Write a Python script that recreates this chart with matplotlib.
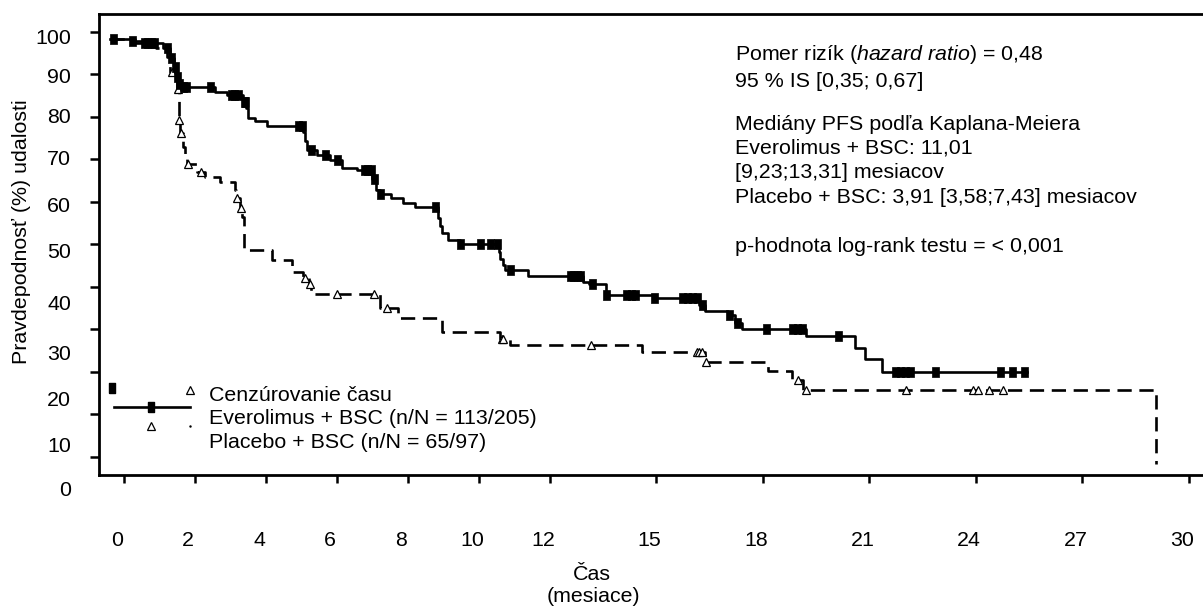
import numpy as np
import matplotlib
matplotlib.use('Agg')
import matplotlib.pyplot as plt
import matplotlib.transforms as mtransforms
from matplotlib.ticker import FixedLocator, FixedFormatter, NullFormatter

plt.rcParams['font.family'] = ['Liberation Sans', 'DejaVu Sans']
plt.rcParams['mathtext.fontset'] = 'custom'
plt.rcParams['mathtext.rm'] = 'Liberation Sans'
plt.rcParams['mathtext.it'] = 'Liberation Sans:italic'

# Everolimus + BSC: KM steps (months, %) and censoring times
evero_t = [0, 0.61, 0.93, 1.49, 1.69, 1.80, 1.86, 1.92, 1.97, 2.96, 3.29, 3.76, 3.82, 3.90,
           4.08, 4.42, 5.45, 5.50, 5.55, 5.82, 6.20, 6.53, 6.95, 7.38, 7.50, 7.60, 7.93,
           8.26, 8.59, 9.25, 9.30, 9.35, 9.53, 9.86, 10.95, 11.00, 11.08, 11.13, 11.78,
           13.33, 13.50, 13.96, 15.33, 16.60, 16.75, 17.40, 17.60, 17.79, 19.62, 20.99,
           21.27, 21.74]
evero_s = [100, 99.6, 99.0, 97.9, 95.6, 93.5, 91.0, 89.5, 88.8, 87.6, 86.9, 85.3, 83.7, 81.5,
           80.8, 79.5, 78.2, 76.0, 73.9, 72.8, 71.6, 69.8, 69.2, 67.0, 64.6, 63.5, 62.6,
           61.4, 60.6, 58.0, 56.0, 54.3, 52.8, 51.7, 50.0, 48.3, 46.8, 45.7, 44.3,
           42.9, 42.5, 39.9, 39.0, 37.5, 36.1, 35.0, 33.2, 31.7, 30.2, 27.3,
           24.7, 21.8]
evero_end = 25.82
evero_cens = [0.08, 0.62, 0.95, 1.05, 1.15, 1.25, 1.60, 1.72, 1.84, 1.90, 1.95, 2.05, 2.15,
              2.82, 3.40, 3.50, 3.60, 3.77, 3.80, 5.30, 5.40, 5.65, 6.07, 6.40, 7.15, 7.25,
              7.35, 7.45, 7.62, 9.15, 9.86, 10.42, 10.70, 10.89, 11.27, 12.95, 13.05, 13.15,
              13.25, 13.59, 13.96, 14.55, 14.68, 14.80, 15.33, 16.10, 16.25, 16.40, 16.55,
              16.68, 17.45, 17.65, 18.47, 19.20, 19.35, 19.50, 20.52, 22.10, 22.25, 22.40,
              22.55, 23.24, 25.07, 25.40, 25.75]

# Placebo + BSC
placebo_t = [0, 0.70, 1.30, 1.60, 1.70, 1.88, 1.93, 1.95, 1.98, 2.05, 2.12, 2.18, 2.45, 2.68,
             3.10, 3.52, 3.56, 3.66, 3.72, 3.77, 4.55, 5.12, 5.45, 5.60, 5.66, 7.60, 8.12,
             9.34, 10.98, 11.27, 14.98, 16.76, 18.54, 19.20, 19.53, 29.48]
placebo_s = [100, 99.0, 97.9, 95.8, 92.4, 88.4, 84.0, 81.0, 77.9, 74.7, 72.3, 70.6, 68.7, 67.6,
             66.5, 64.5, 62.6, 60.2, 58.2, 50.4, 48.0, 45.3, 43.9, 42.4, 40.0, 36.8, 34.3,
             31.2, 29.4, 28.0, 26.3, 24.0, 22.0, 19.8, 17.5, 0]
placebo_cens = [1.74, 1.92, 1.95, 1.99, 2.20, 2.56, 3.57, 3.68, 5.49, 5.63, 6.39, 7.44, 7.80,
                11.03, 11.08, 13.54, 16.53, 16.60, 16.68, 16.78, 19.39, 19.62, 22.41, 24.32,
                24.44, 24.76, 25.15]

x_ticks = [0, 2, 4, 6, 8, 10, 12, 15, 18, 21, 24, 27, 30]
y_ticks = [0, 10, 20, 30, 40, 50, 60, 70, 80, 90, 100]
# where the printed tick labels actually sit (the source figure is misregistered)
y_label_pos = [-6.1, 4.1, 15.1, 25.7, 37.5, 49.8, 60.6, 71.6, 81.6, 90.9, 100.2]
x_tick_shift = 0.383
x_label_shift = 0.2
y_tick_shift = 1.76

W, H = 1203, 607
fs = 15.4
fig = plt.figure(figsize=(W / 100, H / 100), dpi=100)


def fx(x):
    return x / W


def fy(y):
    return 1 - y / H


ax = fig.add_axes([fx(98.7), fy(475), 1 - fx(98.7), fy(14) - fy(475)])
ax.set_xlim(-0.318, 30.79)
ax.set_ylim(-2.54, 105.93)


def surv_at(ts, ss, tc):
    idx = np.searchsorted(ts, tc, side='right') - 1
    return np.asarray(ss)[idx]


rect = [(-0.35, -0.5), (0.35, -0.5), (0.35, 0.5), (-0.35, 0.5), (-0.35, -0.5)]

# placebo (dashed)
ax.step(placebo_t, placebo_s, where='post', color='black', lw=1.9,
        ls=(0, (5.4, 2.9)), zorder=2)
ax.plot(placebo_cens, surv_at(placebo_t, placebo_s, placebo_cens), ls='none',
        marker='^', ms=6, mfc='white', mec='black', mew=0.9, zorder=3)

# everolimus (solid)
ax.step(evero_t + [evero_end], evero_s + [evero_s[-1]], where='post', color='black',
        lw=1.9, zorder=4)
ax.plot(evero_cens, surv_at(evero_t, evero_s, evero_cens), ls='none',
        marker=rect, ms=7.2, mfc='black', mec='black', mew=0.5, zorder=5)

ax.spines['right'].set_visible(False)
for side in ['left', 'top', 'bottom']:
    ax.spines[side].set_linewidth(2.0)

ax.xaxis.set_major_locator(FixedLocator([v + x_tick_shift for v in x_ticks]))
ax.xaxis.set_major_formatter(NullFormatter())
ax.xaxis.set_minor_locator(FixedLocator([v + x_label_shift for v in x_ticks]))
ax.xaxis.set_minor_formatter(FixedFormatter([str(v) for v in x_ticks]))
ax.xaxis.remove_overlapping_locs = False
ax.tick_params(axis='x', which='major', length=6, width=1.8, direction='out')
ax.tick_params(axis='x', which='minor', length=0, pad=40, labelsize=fs)

ax.yaxis.set_major_locator(FixedLocator([v + y_tick_shift for v in y_ticks]))
ax.yaxis.set_major_formatter(NullFormatter())
ax.tick_params(axis='y', which='major', length=6.5, width=1.8, direction='out')

# y tick labels sit apart from the tick marks in the source, drawn as text
ylab_tf = mtransforms.blended_transform_factory(fig.transFigure, ax.transData)
for v, pos in zip(y_ticks, y_label_pos):
    ax.text(fx(71), pos, str(v), transform=ylab_tf, ha='right', va='center',
            fontsize=fs, clip_on=False)

fig.text(fx(22), fy(232), 'Pravdepodnosť (%) udalosti', rotation=90,
         ha='center', va='center', fontsize=fs)
fig.text(fx(592), fy(575), 'Čas', ha='center', va='center', fontsize=fs)
fig.text(fx(593.5), fy(597), '(mesiace)', ha='center', va='center', fontsize=fs)

info = [r'Pomer rizík ($\mathit{hazard\ ratio}$) = 0,48',
        '95 % IS [0,35; 0,67]',
        'Mediány PFS podľa Kaplana-Meiera',
        'Everolimus + BSC: 11,01',
        '[9,23;13,31] mesiacov',
        'Placebo + BSC: 3,91 [3,58;7,43] mesiacov',
        'p-hodnota log-rank testu = < 0,001']
info_y = [60, 86.7, 130, 154, 178.3, 202.7, 251.7]
for txt, yy in zip(info, info_y):
    fig.text(fx(735), fy(yy), txt, ha='left', va='baseline', fontsize=fs)

# legend block
leg = ['Cenzúrovanie času', 'Everolimus + BSC (n/N = 113/205)', 'Placebo + BSC (n/N = 65/97)']
leg_y = [400.7, 424, 448.5]
for txt, yy in zip(leg, leg_y):
    fig.text(fx(208.6), fy(yy), txt, ha='left', va='baseline', fontsize=fs)

tf = fig.transFigure
ax.plot([fx(112)], [fy(388)], marker=rect, ms=7, color='black', ls='none',
        transform=tf, clip_on=False)
ax.plot([fx(114), fx(190)], [fy(407), fy(407)], color='black', lw=1.9,
        transform=tf, clip_on=False)
ax.plot([fx(151)], [fy(407)], marker=rect, ms=7, color='black', ls='none',
        transform=tf, clip_on=False)
ax.plot([fx(190), fx(151)], [fy(390), fy(426)], marker='^', ms=5.5, mfc='white',
        mec='black', mew=0.9, ls='none', transform=tf, clip_on=False)
ax.plot([fx(190)], [fy(426)], marker='.', ms=1.5, color='black', ls='none',
        transform=tf, clip_on=False)

fig.savefig('out.png', dpi=100)
